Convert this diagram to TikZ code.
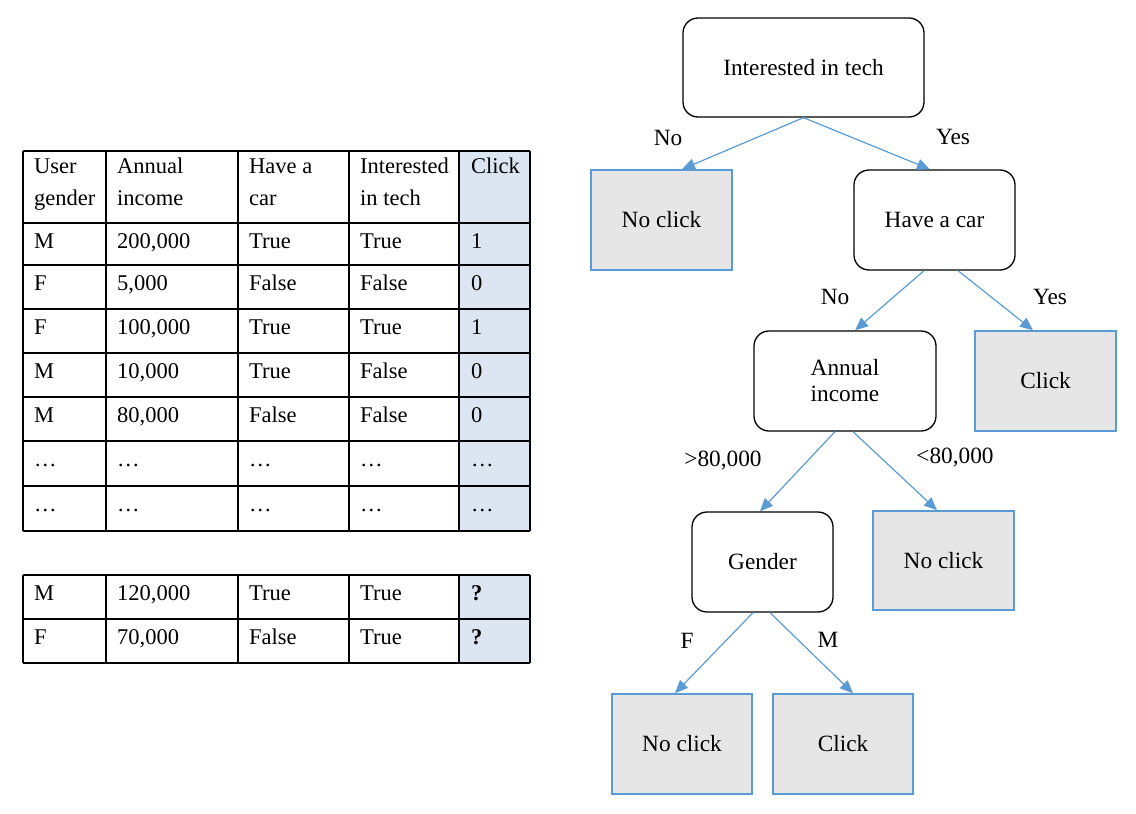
\documentclass[tikz,border=0pt]{standalone}
\usepackage{fontspec}
\setmainfont{Liberation Serif}
\usetikzlibrary{arrows.meta}
\definecolor{edgeblue}{RGB}{91,155,213}
\definecolor{leafgray}{RGB}{230,230,230}
\definecolor{clickblue}{RGB}{220,230,242}
\begin{document}
\begin{tikzpicture}[x=1pt,y=-1pt,
  txt/.style={font=\fontsize{22.5}{30}\selectfont, inner sep=0pt},
  ttxt/.style={font=\fontsize{23.3}{30}\selectfont, inner sep=0pt},
  cell/.style={txt, anchor=base west},
  decision/.style={ttxt, draw=black, line width=1.3pt, rounded corners=15pt, fill=white, align=center},
  leaf/.style={ttxt, draw=edgeblue, line width=1.5pt, fill=leafgray},
  branch/.style={draw=edgeblue, line width=1.2pt, -{Triangle[length=13pt,width=11pt]}},
  grid/.style={draw=black, line width=1.3pt},
  lbl/.style={ttxt}]
\useasboundingbox (0,0) rectangle (1136,814);
% ---------- table ----------
\fill[clickblue] (459,151) rectangle (530,531);
\fill[clickblue] (459,575) rectangle (530,663);
\foreach \yy in {151,223,265,309,353,397,441,486,531}
  \draw[grid] (23,\yy) -- (530,\yy);
\foreach \xx in {23,106,238,349,459,530}
  \draw[grid] (\xx,151) -- (\xx,531);
\foreach \yy in {575,619,663}
  \draw[grid] (23,\yy) -- (530,\yy);
\foreach \xx in {23,106,238,349,459,530}
  \draw[grid] (\xx,575) -- (\xx,663);
% header
\node[cell] (h1a) at (34,173) {User};
\node[cell] (h1b) at (34,205) {gender};
\node[cell] (h2a) at (117,173) {Annual};
\node[cell] (h2b) at (117,205) {income};
\node[cell] (h3a) at (249,173) {Have a};
\node[cell] (h3b) at (249,205) {car};
\node[cell] (h4a) at (360,173) {Interested};
\node[cell] (h4b) at (360,205) {in tech};
\node[cell] (h5a) at (471,173) {Click};
% rows
\foreach \yy/\a/\b/\c/\d/\e [count=\i] in {
  248/M/{200,000}/True/True/1,
  290/F/{5,000}/False/False/0,
  334/F/{100,000}/True/True/1,
  378/M/{10,000}/True/False/0,
  422/M/{80,000}/False/False/0,
  466/…/…/…/…/…,
  511/…/…/…/…/…,
  600/M/{120,000}/True/True/\textbf{?},
  644/F/{70,000}/False/True/\textbf{?}}
{
  \node[cell] (r\i c1) at (34,\yy) {\a};
  \node[cell] (r\i c2) at (117,\yy) {\b};
  \node[cell] (r\i c3) at (249,\yy) {\c};
  \node[cell] (r\i c4) at (360,\yy) {\d};
  \node[cell] (r\i c5) at (471,\yy) {\e};
}
% ---------- tree ----------
\node[decision, minimum width=241pt, minimum height=99pt] (root) at (803.5,67.5) {Interested in tech};
\node[leaf, minimum width=141pt, minimum height=100pt] (nc1) at (661.5,220) {No click};
\node[decision, minimum width=161pt, minimum height=100pt] (hac) at (934.5,220) {Have a car};
\node[decision, minimum width=182pt, minimum height=100pt, font=\fontsize{23.3}{26}\selectfont] (ai) at (845,381) {Annual\\income};
\node[leaf, minimum width=141pt, minimum height=100pt] (ck1) at (1045.5,381) {Click};
\node[decision, minimum width=141pt, minimum height=100pt] (gen) at (762.5,562) {Gender};
\node[leaf, minimum width=141pt, minimum height=99pt] (nc2) at (943.5,560.5) {No click};
\node[leaf, minimum width=140pt, minimum height=100pt] (nc3) at (682,744) {No click};
\node[leaf, minimum width=140pt, minimum height=100pt] (ck3) at (843,744) {Click};
% edges
\draw[branch] (root.south) -- ([xshift=20.5pt]nc1.north);
\draw[branch] (root.south) -- ([xshift=-4.5pt]hac.north);
\draw[branch] ([xshift=-10.5pt]hac.south) -- ([xshift=10pt]ai.north);
\draw[branch] ([xshift=23.5pt]hac.south) -- ([xshift=-12.5pt]ck1.north);
\draw[branch] ([xshift=-10pt]ai.south) -- ([xshift=-2.5pt]gen.north);
\draw[branch] ([xshift=8pt]ai.south) -- ([xshift=-6.5pt]nc2.north);
\draw[branch] ([xshift=-9.5pt]gen.south) -- ([xshift=-7pt]nc3.north);
\draw[branch] ([xshift=7.5pt]gen.south) -- ([xshift=10pt]ck3.north);
% labels
\node[lbl] (l1) at (668,138) {No};
\node[lbl] (l2) at (953,137) {Yes};
\node[lbl] (l3) at (835,297) {No};
\node[lbl] (l4) at (1050,297) {Yes};
\node[lbl] (l5) at (723,461) {>80,000};
\node[lbl] (l6) at (955,458) {<80,000};
\node[lbl] (l7) at (687,641) {F};
\node[lbl] (l8) at (828,640) {M};
\end{tikzpicture}
\end{document}
